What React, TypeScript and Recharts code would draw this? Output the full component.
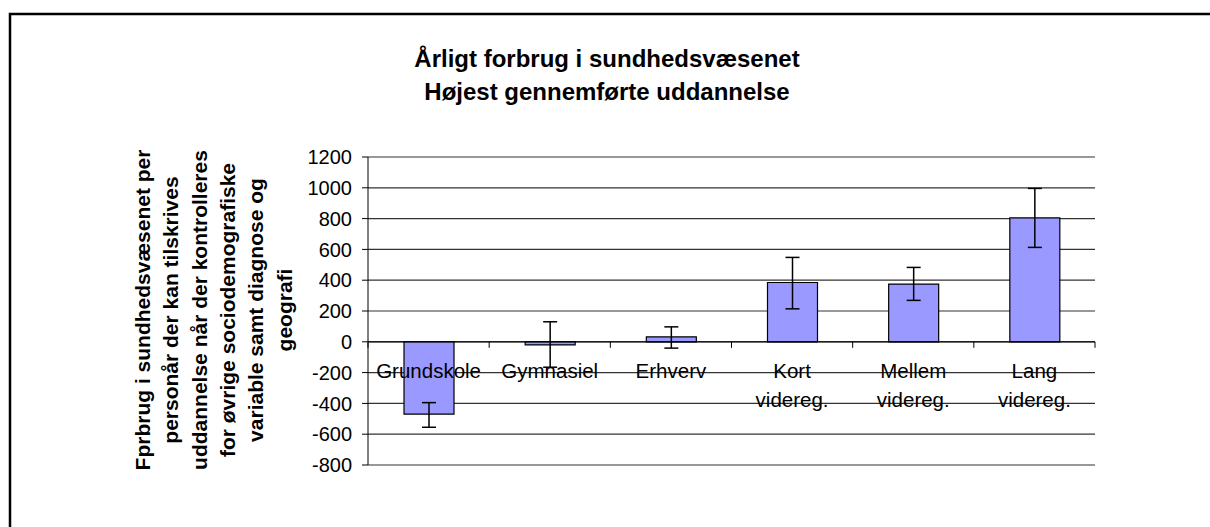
import React from 'react';
import { BarChart, Bar, XAxis, YAxis, CartesianGrid, ErrorBar, ReferenceLine } from 'recharts';

const categories = ['Grundskole', 'Gymnasiel', 'Erhverv', 'Kort\nvidereg.', 'Mellem\nvidereg.', 'Lang\nvidereg.'];
const values = [-470, -20, 32, 385, 375, 805];
const errLow = [85, 145, 73, 171, 106, 192];
const errHigh = [75, 150, 65, 163, 108, 191];
const yTicks = [-800, -600, -400, -200, 0, 200, 400, 600, 800, 1000, 1200];
const titleLines = ['Årligt forbrug i sundhedsvæsenet', 'Højest gennemførte uddannelse'];
const yLabelLines = [
  'Fprbrug i sundhedsvæsenet per',
  'personår der kan tilskrives',
  'uddannelse når der kontrolleres',
  'for øvrige sociodemografiske',
  'variable samt diagnose og',
  'geografi',
];

const data = categories.map((c, i) => ({ name: c, value: values[i], err: [errLow[i], errHigh[i]] }));

const W = 1210;
const H = 527;
const PLOT_LEFT = 368;
const PLOT_RIGHT = 1095;
const PLOT_TOP = 157;
const PLOT_BOTTOM = 465;
const Y_AXIS_W = 60;
const X_AXIS_H = 20;
const Y_MIN = yTicks[0];
const Y_MAX = yTicks[yTicks.length - 1];
const FONT = '"Liberation Sans", Arial, sans-serif';

const zeroY = PLOT_TOP + ((PLOT_BOTTOM - PLOT_TOP) * (Y_MAX - 0)) / (Y_MAX - Y_MIN);
const band = (PLOT_RIGHT - PLOT_LEFT) / categories.length;

const renderCategoryTick = (props: any) => {
  const { x, payload } = props;
  const index = categories.indexOf(payload.value);
  const lines = String(payload.value).split('\n');
  return (
    <g key={`ct-${index}`}>
      <line x1={x - band / 2} x2={x - band / 2} y1={zeroY} y2={zeroY + 6} stroke="#000" strokeWidth={1} />
      {index === categories.length - 1 && (
        <line x1={x + band / 2} x2={x + band / 2} y1={zeroY} y2={zeroY + 6} stroke="#000" strokeWidth={1} />
      )}
      <text x={x} y={zeroY + 36} textAnchor="middle" fontFamily={FONT} fontSize={20.5} fill="#000">
        {lines.map((l, i) => (
          <tspan key={i} x={x} dy={i === 0 ? 0 : 29}>
            {l}
          </tspan>
        ))}
      </text>
    </g>
  );
};

export default function App() {
  return (
    <div style={{ position: 'absolute', left: 0, top: 0, width: W, height: H, overflow: 'hidden', background: '#fff' }}>
      <BarChart
        width={W}
        height={H}
        data={data}
        margin={{ top: PLOT_TOP, right: W - PLOT_RIGHT, bottom: H - PLOT_BOTTOM - X_AXIS_H, left: PLOT_LEFT - Y_AXIS_W }}
        barSize={50}
      >
        <CartesianGrid vertical={false} stroke="#333" strokeWidth={1.2} />
        <YAxis
          domain={[Y_MIN, Y_MAX]}
          ticks={yTicks}
          interval={0}
          width={Y_AXIS_W}
          tickSize={6}
          tickMargin={10}
          axisLine={{ stroke: '#000' }}
          tickLine={{ stroke: '#000' }}
          tick={{ fontFamily: FONT, fontSize: 20, fill: '#000' }}
          allowDataOverflow
        />
        <YAxis
          yAxisId="r"
          orientation="right"
          width={0}
          tick={false}
          tickLine={false}
          axisLine={{ stroke: '#808080', strokeWidth: 2 }}
          domain={[Y_MIN, Y_MAX]}
        />
        <ReferenceLine y={0} stroke="#000" strokeWidth={1} />
        <Bar dataKey="value" fill="#9999FF" stroke="#000" strokeWidth={1.2} isAnimationActive={false}>
          <ErrorBar dataKey="err" direction="y" width={7} stroke="#000" strokeWidth={1.5} isAnimationActive={false} />
        </Bar>
        <XAxis
          dataKey="name"
          height={X_AXIS_H}
          axisLine={false}
          tickLine={false}
          interval={0}
          tick={renderCategoryTick}
        />
      </BarChart>
      <svg width={W} height={H} style={{ position: 'absolute', left: 0, top: 0, pointerEvents: 'none' }}>
        <path d={`M10 ${H} L10 14 L${W} 14`} fill="none" stroke="#000" strokeWidth={2.5} />
        {titleLines.map((t, i) => (
          <text key={i} x={607} y={67 + i * 32.5} textAnchor="middle" fontFamily={FONT} fontWeight="bold" fontSize={24} fill="#000">
            {t}
          </text>
        ))}
        {yLabelLines.map((t, i) => {
          const x = 142.5 + i * 28.3;
          return (
            <text
              key={i}
              x={x}
              y={310}
              transform={`rotate(-90 ${x} 310)`}
              textAnchor="middle"
              dominantBaseline="central"
              fontFamily={FONT}
              fontWeight="bold"
              fontSize={21}
              fill="#000"
            >
              {t}
            </text>
          );
        })}
      </svg>
    </div>
  );
}
